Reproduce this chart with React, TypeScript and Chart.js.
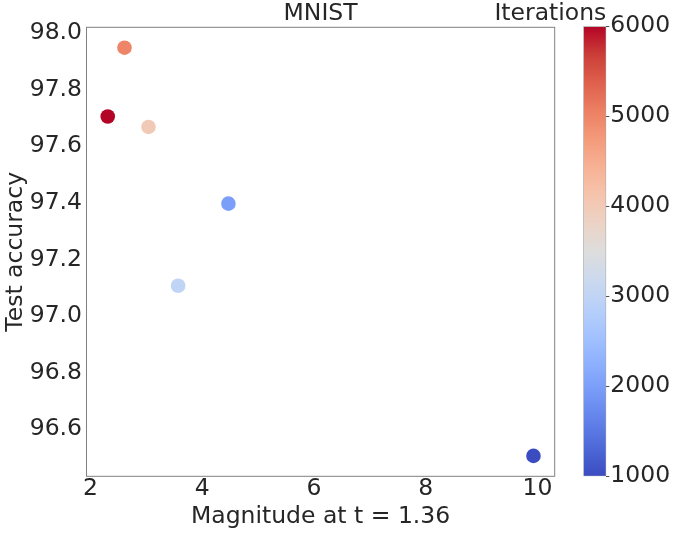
import { useEffect, useRef } from "react"
import { Chart, registerables } from "chart.js"

Chart.register(...registerables)

// data
const magnitude = [2.31, 2.61, 3.04, 4.47, 3.57, 9.93]
const accuracy = [97.705, 97.948, 97.668, 97.397, 97.107, 96.506]
const iterations = [6000, 5000, 4000, 2000, 3000, 1000]

const xTicks = [2, 4, 6, 8, 10]
const yTicks = [96.6, 96.8, 97.0, 97.2, 97.4, 97.6, 97.8, 98.0]
const cbTicks = [1000, 2000, 3000, 4000, 5000, 6000]

const FONT = "'DejaVu Sans', sans-serif"
const TEXT = "#262626"
const FS = 23.5

// coolwarm colormap (Moreland stops)
const coolwarm: [number, number, number][] = [
  [59, 76, 192], [77, 104, 215], [98, 130, 234], [119, 154, 247],
  [141, 176, 254], [163, 194, 255], [184, 208, 249], [204, 217, 238],
  [221, 221, 221], [236, 211, 197], [245, 196, 173], [247, 177, 148],
  [244, 154, 123], [236, 127, 99], [222, 96, 77], [203, 62, 56], [180, 4, 38],
]

function cmap(t: number) {
  const f = Math.min(Math.max(t, 0), 1) * (coolwarm.length - 1)
  const i = Math.min(Math.floor(f), coolwarm.length - 2)
  const r = f - i
  const a = coolwarm[i]
  const b = coolwarm[i + 1]
  const c = a.map((v, k) => Math.round(v + (b[k] - v) * r))
  return `rgb(${c[0]}, ${c[1]}, ${c[2]})`
}

const cMin = cbTicks[0]
const cMax = cbTicks[cbTicks.length - 1]

// grey box round the plot area
const framePlugin = {
  id: "frame",
  afterDatasetsDraw(chart: any) {
    const { ctx, chartArea } = chart
    ctx.save()
    ctx.strokeStyle = "#808080"
    ctx.lineWidth = 1
    ctx.strokeRect(chartArea.left, chartArea.top, chartArea.right - chartArea.left, chartArea.bottom - chartArea.top)
    ctx.restore()
  },
}

// colorbar label, right-aligned with the bar (wider than the bar itself)
const cbLabelPlugin = {
  id: "cbLabel",
  afterDraw(chart: any) {
    const { ctx, chartArea } = chart
    ctx.save()
    ctx.font = `${FS}px ${FONT}`
    ctx.fillStyle = TEXT
    ctx.textAlign = "right"
    ctx.textBaseline = "middle"
    ctx.fillText("Iterations", chartArea.right, chartArea.top - 12.2)
    ctx.restore()
  },
}

export default function App() {
  const mainRef = useRef<HTMLCanvasElement>(null)
  const cbRef = useRef<HTMLCanvasElement>(null)

  useEffect(() => {
    if (!mainRef.current || !cbRef.current) return

    const main = new Chart(mainRef.current, {
      type: "scatter",
      data: {
        datasets: [
          {
            data: magnitude.map((m, i) => ({ x: m, y: accuracy[i] })),
            pointBackgroundColor: iterations.map((v) => cmap((v - cMin) / (cMax - cMin))),
            pointBorderWidth: 0,
            pointRadius: 7.3,
            pointHoverRadius: 7.3,
          },
        ],
      },
      options: {
        responsive: true,
        maintainAspectRatio: false,
        animation: false,
        layout: { padding: { left: 0, top: 0, right: 120.3, bottom: 0 } },
        plugins: {
          legend: { display: false },
          tooltip: { enabled: false },
          title: {
            display: true,
            text: "MNIST",
            fullSize: false,
            color: TEXT,
            font: { family: FONT, size: FS, weight: "normal", lineHeight: 26.4 / FS },
            padding: { top: 0.9, bottom: 0 },
          },
        },
        scales: {
          x: {
            type: "linear",
            min: 1.93,
            max: 10.31,
            grid: { display: false, drawTicks: false },
            border: { display: false },
            afterFit: (scale: any) => {
              scale.height = 57.7
            },
            afterBuildTicks: (scale: any) => {
              scale.ticks = xTicks.map((v) => ({ value: v }))
            },
            ticks: {
              color: TEXT,
              padding: 1,
              font: { family: FONT, size: FS, lineHeight: 1 },
              callback: (v: any) => String(v),
            },
            title: {
              display: true,
              text: "Magnitude at t = 1.36",
              color: TEXT,
              font: { family: FONT, size: FS, lineHeight: 1.2 },
              padding: { top: 0, bottom: 3.4 },
            },
          },
          y: {
            type: "linear",
            min: 96.434,
            max: 98.02,
            grid: { display: false, drawTicks: false },
            border: { display: false },
            afterFit: (scale: any) => {
              scale.width = 86.5
            },
            afterBuildTicks: (scale: any) => {
              scale.ticks = yTicks.map((v) => ({ value: v }))
            },
            ticks: {
              color: TEXT,
              padding: 4.5,
              font: { family: FONT, size: FS },
              callback: (v: any) => Number(v).toFixed(1),
            },
            title: {
              display: true,
              text: "Test accuracy",
              color: TEXT,
              font: { family: FONT, size: FS, lineHeight: 1.2 },
              padding: { top: 1.7, bottom: 0 },
            },
          },
        },
      },
      plugins: [framePlugin],
    })

    const colorbar = new Chart(cbRef.current, {
      type: "bar",
      data: {
        labels: [""],
        datasets: [
          {
            data: [[cMin, cMax]] as any,
            backgroundColor: (ctx: any) => {
              const area = ctx.chart.chartArea
              if (!area) return "transparent"
              const g = ctx.chart.ctx.createLinearGradient(0, area.bottom, 0, area.top)
              coolwarm.forEach((c, i) => {
                g.addColorStop(i / (coolwarm.length - 1), `rgb(${c[0]}, ${c[1]}, ${c[2]})`)
              })
              return g
            },
            borderColor: "rgba(128, 128, 128, 0.7)",
            borderWidth: 1,
            borderSkipped: false,
            barPercentage: 1,
            categoryPercentage: 1,
          },
        ],
      },
      options: {
        responsive: true,
        maintainAspectRatio: false,
        animation: false,
        layout: { padding: { left: 583.3, top: 26.3, right: 0, bottom: 57.7 } },
        plugins: {
          legend: { display: false },
          tooltip: { enabled: false },
        },
        scales: {
          x: { display: false },
          y: {
            position: "right",
            min: cMin,
            max: cMax,
            grid: { drawOnChartArea: false, drawTicks: true, tickLength: 3, color: TEXT, lineWidth: 0.8 },
            border: { display: false },
            afterFit: (scale: any) => {
              scale.width = 68.7
            },
            afterBuildTicks: (scale: any) => {
              scale.ticks = cbTicks.map((v) => ({ value: v }))
            },
            ticks: {
              color: TEXT,
              padding: 1,
              font: { family: FONT, size: FS },
              callback: (v: any) => String(v),
            },
          },
        },
      },
      plugins: [cbLabelPlugin],
    })

    return () => {
      main.destroy()
      colorbar.destroy()
    }
  }, [])

  return (
    <div style={{ position: "absolute", left: 0, top: 0, width: 675, height: 534, background: "#fff" }}>
      <div style={{ position: "absolute", left: 0, top: 0, width: 675, height: 534 }}>
        <canvas ref={mainRef} />
      </div>
      <div style={{ position: "absolute", left: 0, top: 0, width: 675, height: 534 }}>
        <canvas ref={cbRef} />
      </div>
    </div>
  )
}
